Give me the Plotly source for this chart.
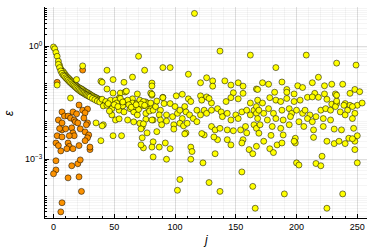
import plotly.graph_objects as go

# ---- data (j, epsilon) ----
# orange series
orange_j = [24, 3, 21, 24, 28, 26, 7, 9, 12, 16, 19, 14, 17, 4, 7, 7, 10, 15, 18, 22,
            16, 17, 13, 3, 7, 2, 4, 6, 12, 13, 11, 16, 21, 26, 28, 29, 28, 26, 30, 30,
            2, 2, 0, 15, 20, 22, 12, 21, 23, 7, 6, 27, 20, 25, 5]
orange_eps = [0.232, 0.11, 0.0275, 0.020, 0.0215, 0.017, 0.018, 0.014, 0.014, 0.018,
              0.016, 0.0124, 0.011, 0.011, 0.0092, 0.006, 0.0064, 0.0068, 0.0098, 0.0064,
              0.005, 0.0042, 0.0042, 0.0042, 0.0039, 0.0027, 0.0023, 0.00166, 0.0027, 0.0022,
              0.0019, 0.0019, 0.0023, 0.0053, 0.0092, 0.0044, 0.0037, 0.0031, 0.0018, 0.0021,
              0.00091, 0.00052, 0.00041, 0.00067, 0.00076, 0.00096, 0.00032, 0.00034, 0.00014, 0.00007,
              0.00004, 0.0082, 0.0092, 0.0124, 0.0065]

# yellow series: decaying head
head_j = [0, 1, 2, 3, 4, 5, 6, 7, 8, 9, 10, 11, 12, 13, 14, 15, 16, 17, 18, 19, 20,
          21, 22, 23, 24, 25, 26, 27, 28, 29, 30, 31, 32, 33, 34, 35, 36, 37, 38, 39, 40]
head_eps = [0.95, 0.85, 0.68, 0.54, 0.40, 0.31, 0.25, 0.22, 0.21, 0.19, 0.17, 0.155,
            0.145, 0.135, 0.125, 0.117, 0.108, 0.100, 0.094, 0.088, 0.083, 0.079, 0.076,
            0.073, 0.070, 0.066, 0.063, 0.060, 0.058, 0.055, 0.053, 0.050, 0.048, 0.046,
            0.044, 0.043, 0.041, 0.039, 0.038, 0.037, 0.036]
head2_j = [4, 5, 6, 7, 8, 9, 10, 11, 12, 13, 14, 15, 16, 17, 18, 19, 20, 21, 22, 23,
           24, 25, 26, 27, 28, 29, 30, 32, 34, 36, 38]
head2_eps = [0.33, 0.27, 0.22, 0.19, 0.17, 0.16, 0.145, 0.135, 0.125, 0.115, 0.108,
             0.100, 0.094, 0.088, 0.082, 0.077, 0.072, 0.068, 0.064, 0.061, 0.058, 0.056,
             0.053, 0.051, 0.049, 0.047, 0.045, 0.041, 0.038, 0.035, 0.033]

# yellow series: scattered points, low j
mid_j = [3, 14, 19, 24, 39, 40, 44, 49, 58, 65, 70, 75, 81, 81, 44, 49, 55, 59, 60, 69,
         80, 81, 90, 54, 65, 76,
         40, 43, 41, 44, 47, 48, 51, 52, 54, 55, 57, 59, 61, 63, 65, 66, 67, 69, 71, 73,
         74, 76, 77, 80, 48, 69, 45, 50, 53, 57, 62, 64, 70, 72, 78, 79, 46, 58, 68, 75,
         35, 41, 51, 61, 76, 66, 73, 82, 77, 73, 49, 56, 39, 82, 74, 82, 54, 71, 74, 72,
         40, 72]
mid_eps = [0.093, 0.042, 0.13, 0.30, 0.118, 0.11, 0.23, 0.13, 0.11, 0.151, 0.54, 0.23,
           0.105, 0.088, 0.073, 0.057, 0.057, 0.061, 0.064, 0.054, 0.057, 0.05, 0.044,
           0.042, 0.040, 0.033,
           0.039, 0.034, 0.026, 0.027, 0.037, 0.022, 0.037, 0.031, 0.020, 0.041, 0.026,
           0.034, 0.037, 0.022, 0.031, 0.018, 0.025, 0.031, 0.037, 0.026, 0.034, 0.0165,
           0.025, 0.022, 0.015, 0.015, 0.030, 0.028, 0.025, 0.033, 0.028, 0.024, 0.021,
           0.029, 0.030, 0.019, 0.019, 0.018, 0.028, 0.027,
           0.0092, 0.0082, 0.011, 0.011, 0.0115, 0.0098, 0.0072, 0.011, 0.005, 0.0037,
           0.0042, 0.0042, 0.0031, 0.0029, 0.002, 0.00115, 0.0118, 0.009, 0.0087, 0.0064,
           0.0077, 0.0024]

# yellow series: scattered points, middle j
cen_j = [90, 96, 111, 126, 121, 131, 131, 141, 146, 152, 156, 167, 81,
         80, 82, 81, 84, 85, 90, 91, 88, 87, 93, 96, 98, 100, 101, 102, 104, 106, 106,
         108, 109, 111, 112, 113, 115, 118, 121, 121, 124, 126, 126, 130, 130, 135, 138,
         139, 142, 143, 146, 148, 150, 152, 152, 155, 156, 159, 162, 165, 167, 162, 167,
         88, 93, 89, 99, 104, 107, 110, 118, 85, 99, 109, 124, 130, 133, 137, 143, 148,
         154, 158, 159, 165, 167, 135, 143, 146, 156, 161, 167, 81, 87, 96, 113, 114, 133,
         93, 113,
         122, 128, 146, 123, 122, 132, 108, 92, 104, 102, 128, 137, 155, 164, 166, 155, 164,
         116, 137, 162]
cen_eps = [0.27, 0.27, 0.18, 0.145, 0.107, 0.12, 0.087, 0.12, 0.093, 0.107, 0.087, 0.073,
           0.053,
           0.031, 0.020, 0.011, 0.025, 0.035, 0.043, 0.030, 0.020, 0.015, 0.015, 0.030,
           0.0135, 0.025, 0.048, 0.0165, 0.020, 0.053, 0.012, 0.025, 0.018, 0.040, 0.015,
           0.034, 0.012, 0.020, 0.048, 0.015, 0.020, 0.045, 0.0165, 0.031, 0.020, 0.022,
           0.018, 0.0135, 0.034, 0.0165, 0.011, 0.058, 0.015, 0.040, 0.012, 0.018, 0.056,
           0.020, 0.015, 0.020, 0.0165, 0.031, 0.025,
           0.011, 0.0103, 0.0082, 0.0082, 0.009, 0.0077, 0.009, 0.0099, 0.0054, 0.0063,
           0.005, 0.0044, 0.0074, 0.006, 0.0066, 0.006, 0.0057, 0.006, 0.0074, 0.005,
           0.0082, 0.0066, 0.0033, 0.0033, 0.0024, 0.0033, 0.0018, 0.0022, 0.0021, 0.0021,
           0.0019, 0.0021, 0.0016, 0.0014, 0.001, 0.001,
           0.037, 0.041, 0.043, 0.0008, 0.0048, 0.0039, 0.0047, 0.0027, 0.00029, 0.00015,
           0.00024, 0.00014, 0.00046, 0.00019, 0.00005, 0.0027, 0.0014,
           7.4, 0.74, 0.58]

# yellow series: scattered points, high j
tail_j = [183, 233, 249, 218, 213, 223, 229, 238, 172, 177, 188, 201, 205, 168, 182, 192,
          192, 198, 215, 223, 232, 244, 248, 252,
          168, 172, 178, 183, 187, 192, 198, 203, 209, 213, 218, 225, 229, 233, 240, 244,
          250, 169, 173, 177, 181, 188, 194, 196, 200, 205, 207, 211, 216, 220, 224, 228,
          232, 236, 239, 242, 246, 248, 254, 168, 176, 183, 189, 195, 202, 209, 213, 222,
          228, 240, 246, 170, 180, 187, 194, 206, 214, 222, 231, 237, 247, 169, 179, 189,
          199, 214, 225, 231, 235, 240, 243, 248, 173, 178, 181, 199, 221, 248,
          208, 184, 188, 198, 190, 200, 202, 216, 220, 225, 238, 250, 250, 246, 233, 233]
tail_eps = [0.27, 0.355, 0.315, 0.15, 0.107, 0.089, 0.098, 0.098, 0.107, 0.098, 0.112,
            0.089, 0.080, 0.071, 0.060, 0.071, 0.060, 0.054, 0.056, 0.054, 0.054, 0.056,
            0.071, 0.062,
            0.037, 0.031, 0.043, 0.037, 0.034, 0.041, 0.034, 0.037, 0.044, 0.045, 0.044,
            0.039, 0.029, 0.030, 0.030, 0.027, 0.027, 0.020, 0.0165, 0.022, 0.0165, 0.020,
            0.022, 0.0165, 0.020, 0.0165, 0.020, 0.015, 0.0135, 0.020, 0.022, 0.020, 0.025,
            0.018, 0.027, 0.020, 0.025, 0.0165, 0.031, 0.012, 0.011, 0.012, 0.011, 0.0135,
            0.0099, 0.012, 0.0099, 0.012, 0.011, 0.015, 0.012, 0.0082, 0.0074, 0.0066,
            0.0082, 0.0074, 0.006, 0.0074, 0.0063, 0.006, 0.0066, 0.0049, 0.0043, 0.0044,
            0.0036, 0.0038, 0.003, 0.0026, 0.003, 0.0026, 0.0036, 0.003, 0.003, 0.0019,
            0.0015, 0.0027, 0.0012, 0.0018,
            0.58, 0.0024, 0.0027, 0.003, 0.00012, 0.0008, 0.0007, 0.00077, 0.00067, 0.00005,
            0.00012, 0.0008, 0.0042, 0.0035, 0.035, 0.05]

yellow_j = head_j + head2_j + mid_j + cen_j + tail_j
yellow_eps = head_eps + head2_eps + mid_eps + cen_eps + tail_eps

x_ticks = [0, 50, 100, 150, 200, 250]
y_ticks = [1, 1e-3]
y_tick_text = ["10<sup>0</sup>", "10<sup>−3</sup>"]

# minor log ticks 2..9 per decade (style)
minor_vals = []
for e in range(-5, 2):
    for m in range(1, 10):
        minor_vals.append(m * 10.0 ** e)

marker_line = dict(color="rgba(0,0,0,0.75)", width=0.7)

fig = go.Figure()
fig.add_trace(go.Scatter(x=orange_j, y=orange_eps, mode="markers",
                         marker=dict(size=6, color="#FC9200", line=marker_line),
                         showlegend=False))
fig.add_trace(go.Scatter(x=yellow_j, y=yellow_eps, mode="markers",
                         marker=dict(size=6, color="#FFFF00", line=marker_line),
                         showlegend=False))

font_family = "Liberation Sans, DejaVu Sans, sans-serif"
grid_c = "rgba(0,0,0,0.09)"
minor_grid_c = "rgba(0,0,0,0.04)"

L, R, T, B = 45, 7, 7, 31
W, H = 374, 249
pw, ph = W - L - R, H - T - B

fig.update_layout(
    width=W, height=H,
    margin=dict(l=L, r=R, t=T, b=B, autoexpand=False),
    paper_bgcolor="white", plot_bgcolor="white",
    font=dict(family=font_family, size=9, color="black"),
    xaxis=dict(
        automargin=False,
        range=[-7, 258], tickvals=x_ticks, ticks="inside", ticklen=4,
        tickcolor="black", tickwidth=0.8,
        showline=True, linecolor="black", linewidth=1, mirror=False,
        showgrid=True, gridcolor=grid_c, gridwidth=0.6, zeroline=False,
        tickfont=dict(size=9),
        minor=dict(dtick=10, ticks="inside", ticklen=2, tickcolor="black",
                   showgrid=True, gridcolor=minor_grid_c, gridwidth=0.5),
    ),
    yaxis=dict(
        automargin=False,
        type="log", range=[-4.56, 1.04], tickmode="array",
        tickvals=y_ticks, ticktext=y_tick_text, ticks="inside", ticklen=4,
        tickcolor="black", tickwidth=0.8,
        showline=True, linecolor="black", linewidth=1, mirror=False,
        showgrid=True, gridcolor=grid_c, gridwidth=0.6, zeroline=False,
        tickfont=dict(size=9),
        minor=dict(tickmode="array", tickvals=minor_vals, ticks="inside", ticklen=2,
                   tickcolor="black", showgrid=True, gridcolor=minor_grid_c,
                   gridwidth=0.5),
    ),
    annotations=[
        dict(text="<i>j</i>", xref="paper", yref="paper",
             x=(205 - L) / pw, y=-(240 - (H - B)) / ph,
             showarrow=False, font=dict(size=12), xanchor="center", yanchor="middle"),
        dict(text="<i>ε</i>", xref="paper", yref="paper",
             x=-(L - 9) / pw, y=((H - B) - 113) / ph, textangle=-90,
             showarrow=False, font=dict(size=12), xanchor="center", yanchor="middle"),
    ],
)

fig.write_html("out.html", config={"displayModeBar": False},
               post_script="document.body.style.margin='0';document.body.style.overflow='hidden';")
